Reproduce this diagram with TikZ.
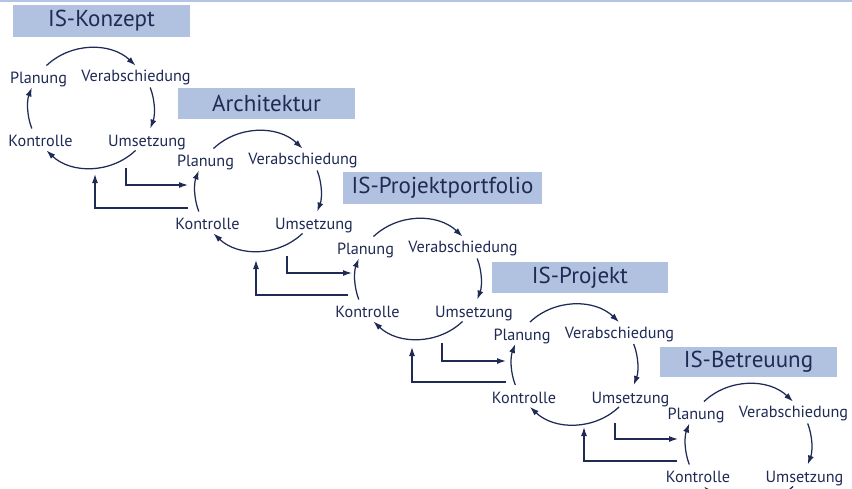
\documentclass[tikz,border=0pt]{standalone}
\usepackage{fontspec}
\setmainfont{PT Sans}
\usetikzlibrary{arrows.meta}
\definecolor{navy}{HTML}{1F2A55}
\definecolor{titlebg}{HTML}{B1C1E0}
\definecolor{toprule}{HTML}{B4C4E4}

% one planning cycle: four phase labels and four arcs round a centre
\newcommand\phasecycle[3]{%
  \begin{scope}[shift={(#2,#3)}]
    \node[lab] (#1-plan) at (-52.5,-24.5) {Planung};
    \node[lab] (#1-verab) at (45,-26.5) {Verabschiedung};
    \node[lab] (#1-kontr) at (-50.5,38.5) {Kontrolle};
    \node[lab] (#1-umset) at (56,38.5) {Umsetzung};
    \draw[cyc] (-135:63 and 60) arc[start angle=-135,end angle=-45,x radius=63,y radius=60];
    \draw[cyc] (-20:63 and 60) arc[start angle=-20,end angle=20,x radius=63,y radius=60];
    \draw[cyc] (45:63 and 60) arc[start angle=45,end angle=135,x radius=63,y radius=60];
    \draw[cyc] (160:63 and 60) arc[start angle=160,end angle=200,x radius=63,y radius=60];
  \end{scope}}

\begin{document}
\begin{tikzpicture}[x=1pt,y=-1pt,
  lab/.style={inner sep=0pt,anchor=base,text=navy,font=\fontsize{16.2}{18}\selectfont},
  cyc/.style={draw=navy,line width=1.25pt,-{Latex[length=9pt,width=6pt]}},
  link/.style={draw=navy,line width=1.25pt,-{Latex[length=9pt,width=6pt]}},
  titlebox/.style={fill=titlebg,inner sep=0pt,text=navy,font=\fontsize{23}{26}\selectfont}]
\useasboundingbox (0,0) rectangle (852,488);
\clip (0,0) rectangle (852,488);
\fill[white] (0,0) rectangle (852,488);
\draw[toprule,line width=2pt] (0,1) -- (852,1);

% stage titles
\node[titlebox,minimum width=177pt,minimum height=32pt] (t1) at (101.5,21) {IS-Konzept};
\node[titlebox,minimum width=177pt,minimum height=31pt] (t2) at (266.5,103.5) {Architektur};
\node[titlebox,minimum width=199pt,minimum height=32pt] (t3) at (442.5,188) {IS-Projektportfolio};
\node[titlebox,minimum width=176pt,minimum height=31pt] (t4) at (580,277.5) {IS-Projekt};
\node[titlebox,minimum width=177pt,minimum height=30pt] (t5) at (748.5,362) {IS-Betreuung};

% the five cycles
\phasecycle{s1}{91}{108}
\phasecycle{s2}{258}{191}
\phasecycle{s3}{418}{279}
\phasecycle{s4}{574.5}{364.5}
\phasecycle{s5}{748.5}{444}

% hand-over points between the cycles
\coordinate (f1a) at (126,168); \coordinate (f1b) at (188,185);
\coordinate (f2a) at (287,256); \coordinate (f2b) at (352,273);
\coordinate (f3a) at (442,343); \coordinate (f3b) at (506,361);
\coordinate (f4a) at (615,423); \coordinate (f4b) at (678,439);
\coordinate (b1a) at (188,208); \coordinate (b1b) at (95,174);
\coordinate (b2a) at (348,295); \coordinate (b2b) at (256,260);
\coordinate (b3a) at (506,382); \coordinate (b3b) at (412,347);
\coordinate (b4a) at (677,461); \coordinate (b4b) at (584,427);

% forward hand-over and feedback
\foreach \i in {1,...,4}{
  \draw[link] (f\i a) |- (f\i b);
  \draw[link] (b\i a) -| (b\i b);
}
\end{tikzpicture}
\end{document}
